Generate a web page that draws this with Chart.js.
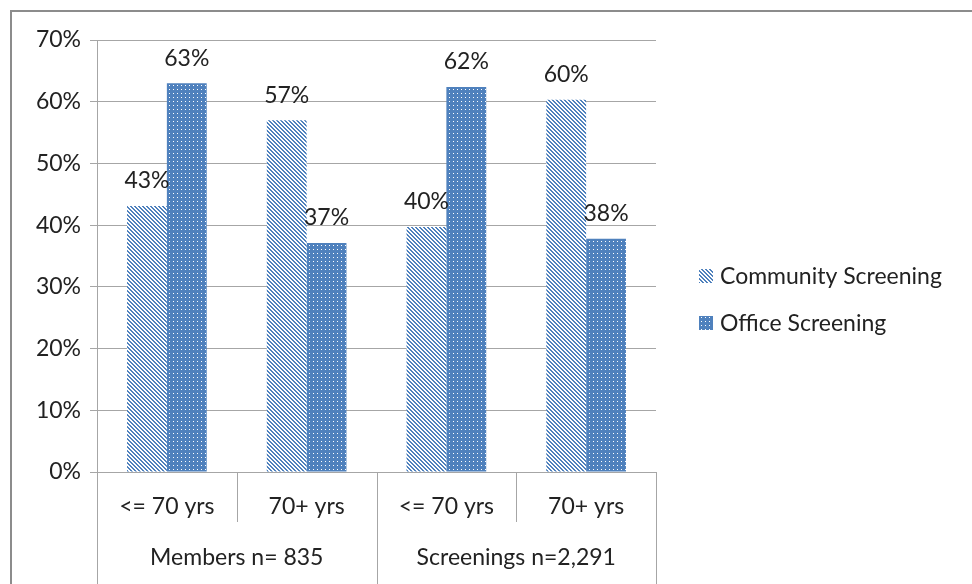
<!DOCTYPE html>
<html>
<head>
<meta charset="utf-8">
<script src="https://cdn.jsdelivr.net/npm/chart.js@4"></script>
<style>
  body { margin: 0; background: #fff; }
  #wrap { width: 972px; height: 584px; }
</style>
</head>
<body>
<div id="wrap"><canvas id="chart" width="972" height="584"></canvas></div>
<script>
const categories = ['<= 70 yrs', '70+ yrs', '<= 70 yrs', '70+ yrs'];
const groups = ['Members n= 835', 'Screenings n=2,291'];
const communityValues = [43.1, 57, 39.7, 60.3];
const officeValues = [63, 37.1, 62.4, 37.8];
const seriesNames = ['Community Screening', 'Office Screening'];
const yTicks = [0, 10, 20, 30, 40, 50, 60, 70];

const BLUE = '#4f81bd';
const FONT = 'Lato, "Open Sans", sans-serif';
const FSIZE = 23;

// small tiles for the Excel-like fill patterns
function stripePattern() {
  const c = document.createElement('canvas');
  c.width = 4; c.height = 4;
  const g = c.getContext('2d');
  g.fillStyle = '#fff';
  g.fillRect(0, 0, 4, 4);
  g.fillStyle = BLUE;
  for (let y = 0; y < 4; y++) {
    for (let x = 0; x < 4; x++) {
      const d = ((x - y) % 4 + 4) % 4;
      if (d < 2) g.fillRect(x, y, 1, 1);
    }
  }
  return g.createPattern(c, 'repeat');
}

function dotPattern() {
  const c = document.createElement('canvas');
  c.width = 4; c.height = 4;
  const g = c.getContext('2d');
  g.fillStyle = BLUE;
  g.fillRect(0, 0, 4, 4);
  g.fillStyle = '#ffffff';
  g.fillRect(1, 1, 1, 1);
  return g.createPattern(c, 'repeat');
}

const ctx = document.getElementById('chart').getContext('2d');
const patterns = [stripePattern(), dotPattern()];

const extras = {
  id: 'extras',
  beforeDraw(chart) {
    const c = chart.ctx;
    c.save();
    c.fillStyle = '#fff';
    c.fillRect(0, 0, chart.width, chart.height);
    // outer frame
    c.strokeStyle = '#8c8c8c';
    c.lineWidth = 2;
    c.beginPath();
    c.moveTo(11, chart.height);
    c.lineTo(11, 11);
    c.lineTo(chart.width, 11);
    c.stroke();
    c.restore();
  },
  afterDraw(chart) {
    const c = chart.ctx;
    const x = chart.scales.x;
    const area = chart.chartArea;
    c.save();
    c.strokeStyle = '#a6a6a6';
    c.lineWidth = 1;
    // category dividers
    const step = (area.right - area.left) / categories.length;
    for (let i = 0; i <= categories.length; i++) {
      const px = Math.round(area.left + i * step) + 0.5;
      const full = i % 2 === 0;
      c.beginPath();
      c.moveTo(px, area.bottom);
      c.lineTo(px, full ? chart.height : area.bottom + 50);
      c.stroke();
    }
    c.fillStyle = '#222';
    c.font = FSIZE + 'px ' + FONT;
    c.textAlign = 'center';
    c.textBaseline = 'middle';
    categories.forEach((lab, i) => {
      c.fillText(lab, x.getPixelForValue(i), area.bottom + 35);
    });
    groups.forEach((lab, i) => {
      c.fillText(lab, area.left + step * (2 * i + 1), area.bottom + 86);
    });
    // value labels
    chart.data.datasets.forEach((ds, di) => {
      chart.getDatasetMeta(di).data.forEach((bar, i) => {
        c.fillText(Math.round(ds.data[i]) + '%', bar.x, bar.y - 25);
      });
    });
    // legend
    const lx = 699;
    const ly = [276, 323];
    seriesNames.forEach((name, i) => {
      c.fillStyle = patterns[i];
      c.fillRect(lx, ly[i] - 7, 14, 14);
      c.fillStyle = '#222';
      c.textAlign = 'left';
      c.fillText(name, lx + 21, ly[i] + 1);
    });
    c.restore();
  }
};

new Chart(ctx, {
  type: 'bar',
  data: {
    labels: categories,
    datasets: [
      { label: seriesNames[0], data: communityValues, backgroundColor: patterns[0] },
      { label: seriesNames[1], data: officeValues, backgroundColor: patterns[1] }
    ]
  },
  options: {
    responsive: false,
    animation: false,
    layout: { padding: { top: 40, left: 12, right: 316, bottom: 0 } },
    datasets: { bar: { categoryPercentage: 0.57, barPercentage: 1 } },
    plugins: { legend: { display: false }, tooltip: { enabled: false } },
    scales: {
      x: {
        grid: { display: false, drawTicks: false },
        border: { color: '#a6a6a6' },
        ticks: { display: false },
        afterFit: s => { s.height = 112; }
      },
      y: {
        min: 0, max: 70,
        afterBuildTicks: s => { s.ticks = yTicks.map(v => ({ value: v })); },
        grid: { color: '#a6a6a6', tickLength: 7 },
        border: { color: '#a6a6a6' },
        ticks: {
          color: '#222',
          font: { family: FONT, size: FSIZE },
          padding: 9,
          callback: v => v + '%'
        },
        afterFit: s => { s.width = 85; }
      }
    }
  },
  plugins: [extras]
});
</script>
</body>
</html>
